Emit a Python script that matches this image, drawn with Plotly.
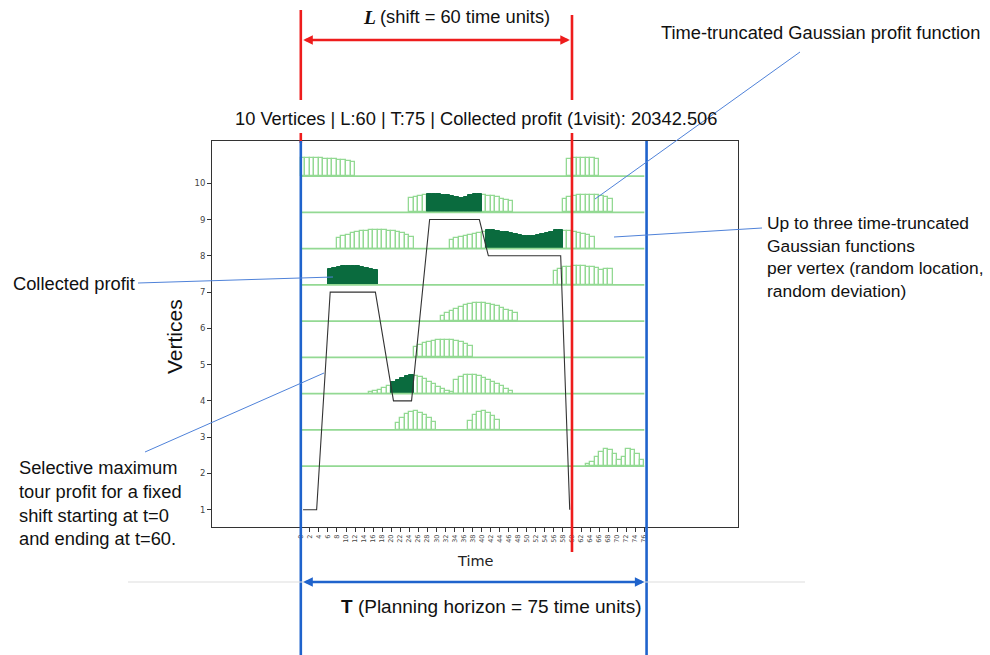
import plotly.graph_objects as go

# ---------------------------------------------------------------------------
# Data: time-truncated Gaussian profit profiles per vertex.
# Each segment = (vertex, first time slot, profit heights per unit slot)
# ---------------------------------------------------------------------------
SEG_VERTEX = [10, 10, 9, 9, 8, 8, 7, 7, 6, 5, 4, 3, 3, 2]
SEG_START = [0, 59, 24, 58, 8, 33, 6, 56, 31, 25, 15, 21, 37, 63]
SEG_HEIGHTS = [
    [0.51, 0.51, 0.51, 0.50, 0.49, 0.48, 0.47, 0.46, 0.45, 0.43, 0.41, 0.38],
    [0.48, 0.49, 0.49, 0.49, 0.49, 0.49, 0.48],
    [0.40, 0.43, 0.45, 0.47, 0.50, 0.50, 0.50, 0.49, 0.48, 0.46, 0.42, 0.40,
     0.43, 0.48, 0.50, 0.50, 0.47, 0.46, 0.44, 0.41, 0.38, 0.35, 0.32],
    [0.36, 0.42, 0.46, 0.48, 0.49, 0.49, 0.48, 0.47, 0.45, 0.42, 0.38],
    [0.30, 0.34, 0.38, 0.42, 0.45, 0.48, 0.49, 0.50, 0.50, 0.50, 0.50, 0.49,
     0.48, 0.45, 0.42, 0.38, 0.33],
    [0.24, 0.28, 0.31, 0.35, 0.38, 0.41, 0.44, 0.46, 0.50, 0.50, 0.49, 0.47,
     0.45, 0.42, 0.40, 0.38, 0.36, 0.35, 0.36, 0.38, 0.41, 0.44, 0.47, 0.50,
     0.50, 0.49, 0.48, 0.46, 0.44, 0.41, 0.37, 0.32],
    [0.43, 0.47, 0.50, 0.52, 0.53, 0.53, 0.52, 0.50, 0.47, 0.44, 0.41],
    [0.37, 0.44, 0.48, 0.50, 0.51, 0.51, 0.51, 0.50, 0.49, 0.46, 0.42, 0.45, 0.45],
    [0.15, 0.22, 0.28, 0.34, 0.39, 0.44, 0.47, 0.49, 0.50, 0.49, 0.47, 0.44,
     0.41, 0.37, 0.32, 0.27, 0.21],
    [0.28, 0.34, 0.39, 0.43, 0.46, 0.48, 0.49, 0.49, 0.48, 0.46, 0.42, 0.38, 0.31],
    [0.05, 0.07, 0.11, 0.16, 0.21, 0.32, 0.38, 0.44, 0.48, 0.51, 0.50, 0.46,
     0.40, 0.33, 0.26, 0.19, 0.13, 0.08, 0.05, 0.38, 0.47, 0.51, 0.52, 0.51,
     0.48, 0.44, 0.39, 0.33, 0.27, 0.20, 0.13, 0.07],
    [0.20, 0.33, 0.43, 0.49, 0.51, 0.48, 0.41, 0.32, 0.22],
    [0.25, 0.40, 0.49, 0.51, 0.47, 0.38, 0.28],
    [0.05, 0.12, 0.25, 0.40, 0.48, 0.44, 0.33, 0.18, 0.25, 0.48, 0.45, 0.33, 0.18],
]

# Time slots in which the tour collects profit at a vertex
COLLECT_VERTEX = [7, 4, 9, 8]
COLLECT_FROM = [6, 20, 28, 41]
COLLECT_TO = [16, 24, 39, 57]

# Selective maximum-profit tour (time, vertex)
TOUR_T = [0.5, 3.5, 6.5, 16.5, 20.5, 24.5, 28.5, 39.5, 41.5, 57.5, 59.5]
TOUR_V = [1, 1, 7, 7, 4, 4, 9, 9, 8, 8, 1]

PROFIT_VERTICES = [2, 3, 4, 5, 6, 7, 8, 9, 10]
VERTEX_TICKS = list(range(1, 11))
TIME_TICKS = list(range(0, 77, 2))
HORIZON_END = 76
SHIFT_START, SHIFT_END = 0, 60
BASE_OFFSET = 0.2

TITLE = "10 Vertices | L:60 | T:75 | Collected profit (1visit): 20342.506"

# ---------------------------------------------------------------------------
# Layout geometry
# ---------------------------------------------------------------------------
W, H = 990, 655
PL, PR, PT, PB = 212, 738, 141, 527
X_RANGE = [-19.65, 96.73]
Y_RANGE = [0.523, 11.166]
PX_PER_T = (PR - PL) / (X_RANGE[1] - X_RANGE[0])

LIGHT = "#93d993"
DARK = "#0a6b3e"
RED = "#ee1c1c"
BLUE = "#1f63cc"
LEADER = "#4f82d9"
TXT = "#111111"
SANS = "Liberation Sans, Arial, sans-serif"
FS = 18.3


def px(x):
    return (x - PL) / (PR - PL)


def py(y):
    return (PB - y) / (PB - PT)


def tx(t):
    return (t - X_RANGE[0]) / (X_RANGE[1] - X_RANGE[0])


# split bars into collected / not collected
collected = set()
for v, a, b in zip(COLLECT_VERTEX, COLLECT_FROM, COLLECT_TO):
    for k in range(a, b + 1):
        collected.add((v, k))

lx, ly, lb, dx, dy, db = [], [], [], [], [], []
for v, s, hs in zip(SEG_VERTEX, SEG_START, SEG_HEIGHTS):
    for i, h in enumerate(hs):
        k = s + i
        if (v, k) in collected:
            dx.append(k + 0.5); dy.append(h); db.append(v + BASE_OFFSET)
        else:
            lx.append(k + 0.5); ly.append(h); lb.append(v + BASE_OFFSET)

fig = go.Figure()

fig.add_trace(go.Bar(x=lx, y=ly, base=lb, width=1,
                     marker=dict(color="white", line=dict(color=LIGHT, width=1.3)),
                     showlegend=False, hoverinfo="skip"))
fig.add_trace(go.Bar(x=dx, y=dy, base=db, width=1,
                     marker=dict(color=DARK, line=dict(color=DARK, width=1)),
                     showlegend=False, hoverinfo="skip"))

bx, by = [], []
for v in PROFIT_VERTICES:
    bx += [0, HORIZON_END, None]
    by += [v + BASE_OFFSET, v + BASE_OFFSET, None]
fig.add_trace(go.Scatter(x=bx, y=by, mode="lines",
                         line=dict(color=LIGHT, width=1.7),
                         showlegend=False, hoverinfo="skip"))

fig.add_trace(go.Scatter(x=TOUR_T, y=TOUR_V, mode="lines",
                         line=dict(color="#333333", width=1.1),
                         showlegend=False, hoverinfo="skip"))

# ---------------------------------------------------------------------------
# Overlay lines
# ---------------------------------------------------------------------------
shapes = []


def vline(xp, y0, y1, color, width):
    shapes.append(dict(type="line", xref="paper", yref="paper",
                       x0=xp, x1=xp, y0=py(y0), y1=py(y1),
                       line=dict(color=color, width=width)))


def seg(x0, y0, x1, y1, color, width):
    shapes.append(dict(type="line", xref="paper", yref="paper",
                       x0=px(x0), x1=px(x1), y0=py(y0), y1=py(y1),
                       line=dict(color=color, width=width)))


vline(tx(SHIFT_START), 10, 100, RED, 2.6)
vline(tx(SHIFT_START), 133, 143, RED, 2.6)
vline(tx(SHIFT_END), 15, 100, RED, 2.6)
vline(tx(SHIFT_END), 133, 552, RED, 2.6)
vline(tx(SHIFT_START), 141, 655, BLUE, 2.6)
vline(tx(HORIZON_END + 0.5), 141, 655, BLUE, 2.6)
seg(128, 582, 805, 582, "#dddddd", 1)
seg(800, 52, 595, 199, LEADER, 1)
seg(762, 228, 614, 237, LEADER, 1)
seg(138, 283, 333, 277, LEADER, 1)
seg(145, 452, 324, 373, LEADER, 1)

ann = []
# double arrows
ann.append(dict(xref="paper", yref="paper", x=tx(SHIFT_END) - 0.004, y=py(40),
                ax=-(SHIFT_END - SHIFT_START) * PX_PER_T + 3, ay=0,
                showarrow=True, arrowside="end+start", arrowhead=2,
                arrowsize=0.8, arrowwidth=2.4, arrowcolor=RED, text=""))
ann.append(dict(xref="paper", yref="paper", x=tx(HORIZON_END + 0.5) - 0.004, y=py(582),
                ax=-(HORIZON_END + 0.5 - SHIFT_START) * PX_PER_T + 3, ay=0,
                showarrow=True, arrowside="end+start", arrowhead=2,
                arrowsize=0.8, arrowwidth=2.4, arrowcolor=BLUE, text=""))


def label(text, x, y, size=FS, xanchor="left", family=SANS, color=TXT):
    ann.append(dict(xref="paper", yref="paper", x=px(x), y=py(y), text=text,
                    showarrow=False, xanchor=xanchor, yanchor="middle",
                    align="left", font=dict(family=family, size=size, color=color)))


label("<b><i>L</i></b>", 361, 18, size=19.5, family="Liberation Serif, Times New Roman, serif")
label("(shift = 60 time units)", 378, 17)
label("Time-truncated Gaussian profit function", 659, 33)
label(TITLE, 476, 118, xanchor="center")
label("Up to three time-truncated<br>Gaussian functions<br>per vertex (random location,<br>random deviation)",
      765, 256.5, size=17.4)
label("Collected profit", 11, 283)
label("Selective maximum<br>tour profit for a fixed<br>shift starting at t=0<br>and ending at t=60.", 17, 502.5)
label("<b>T</b> (Planning horizon = 75 time units)", 339, 606, size=19)
label("Time", 475, 561, size=14.5, xanchor="center", family="DejaVu Sans", color="#222222")
ann.append(dict(xref="paper", yref="paper", x=px(174), y=py(337), text="Vertices",
                showarrow=False, textangle=-90, xanchor="center", yanchor="middle",
                font=dict(family=SANS, size=21, color=TXT)))

fig.update_layout(
    width=W, height=H,
    margin=dict(l=PL, r=W - PR, t=PT, b=H - PB, pad=0),
    paper_bgcolor="white", plot_bgcolor="white",
    barmode="overlay", bargap=0,
    shapes=shapes, annotations=ann,
    showlegend=False,
)
fig.update_xaxes(range=X_RANGE, tickvals=TIME_TICKS, ticktext=[str(t) for t in TIME_TICKS],
                 tickangle=-90, tickfont=dict(family="DejaVu Sans", size=6.5, color="#444444"),
                 showline=True, mirror=True, linecolor="#333333", linewidth=1,
                 ticks="outside", ticklen=4, tickcolor="#333333", tickwidth=1,
                 showgrid=False, zeroline=False)
fig.update_yaxes(range=Y_RANGE, tickvals=VERTEX_TICKS,
                 tickfont=dict(family="DejaVu Sans", size=8.5, color="#444444"),
                 showline=True, mirror=True, linecolor="#333333", linewidth=1,
                 ticks="outside", ticklen=4, tickcolor="#333333", tickwidth=1,
                 showgrid=False, zeroline=False)

fig.write_html("out.html")
